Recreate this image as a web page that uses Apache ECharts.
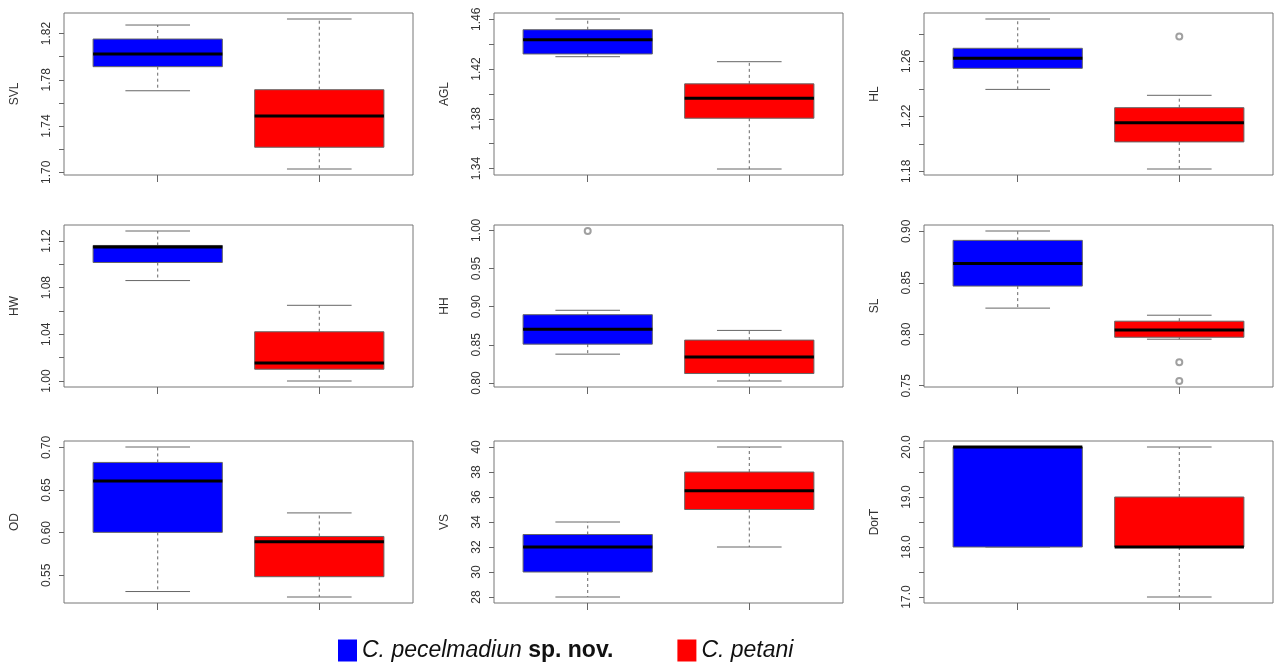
<!DOCTYPE html>
<html>
<head>
<meta charset="utf-8">
<script src="https://cdn.jsdelivr.net/npm/echarts@6/dist/echarts.min.js"></script>
<style>
  html, body { margin: 0; padding: 0; background: #fff; }
  #main { width: 1275px; height: 671px; }
</style>
</head>
<body>
<div id="main"></div>
<script>
// variable names, one panel each
var panelNames = ['SVL', 'AGL', 'HL', 'HW', 'HH', 'SL', 'OD', 'VS', 'DorT'];

// [lower whisker, Q1, median, Q3, upper whisker]
var blueStats = [
  [1.7705, 1.7913, 1.8022, 1.8152, 1.8273],
  [1.4299, 1.4321, 1.4436, 1.4516, 1.4602],
  [1.2396, 1.2549, 1.2622, 1.2695, 1.2908],
  [1.0861, 1.1016, 1.1148, 1.1162, 1.1286],
  [0.8378, 0.8509, 0.8703, 0.8895, 0.8953],
  [0.8254, 0.8468, 0.8688, 0.8912, 0.9003],
  [0.5310, 0.6004, 0.6607, 0.6824, 0.7005],
  [28, 30, 32, 33, 34],
  [18, 18, 20, 20, 20]
];
var redStats = [
  [1.7029, 1.7217, 1.7488, 1.7714, 1.8325],
  [1.3397, 1.3805, 1.3966, 1.4081, 1.4259],
  [1.1817, 1.2014, 1.2154, 1.2263, 1.2353],
  [1.0000, 1.0101, 1.0155, 1.0422, 1.0649],
  [0.8026, 0.8124, 0.8342, 0.8562, 0.8689],
  [0.7952, 0.7971, 0.8042, 0.8127, 0.8185],
  [0.5246, 0.5484, 0.5895, 0.5956, 0.6232],
  [32, 35, 36.5, 38, 40],
  [17, 18, 18, 19, 20]
];
// outliers: [panel, group (1 blue, 2 red), value]
var outliers = [
  [2, 2, 1.2780],
  [4, 1, 0.9992],
  [5, 2, 0.7728],
  [5, 2, 0.7546]
];

// tick marks and tick labels per panel
var tickValues = [
  [1.70, 1.72, 1.74, 1.76, 1.78, 1.80, 1.82],
  [1.34, 1.36, 1.38, 1.40, 1.42, 1.44, 1.46],
  [1.18, 1.20, 1.22, 1.24, 1.26, 1.28],
  [1.00, 1.02, 1.04, 1.06, 1.08, 1.10, 1.12],
  [0.80, 0.85, 0.90, 0.95, 1.00],
  [0.75, 0.80, 0.85, 0.90],
  [0.55, 0.60, 0.65, 0.70],
  [28, 30, 32, 34, 36, 38, 40],
  [17.0, 17.5, 18.0, 18.5, 19.0, 19.5, 20.0]
];
var labelValues = [
  [1.70, 1.74, 1.78, 1.82],
  [1.34, 1.38, 1.42, 1.46],
  [1.18, 1.22, 1.26],
  [1.00, 1.04, 1.08, 1.12],
  [0.80, 0.85, 0.90, 0.95, 1.00],
  [0.75, 0.80, 0.85, 0.90],
  [0.55, 0.60, 0.65, 0.70],
  [28, 30, 32, 34, 36, 38, 40],
  [17.0, 18.0, 19.0, 20.0]
];
var labelDecimals = [2, 2, 2, 2, 2, 2, 2, 0, 1];

var groupNames = ['C. pecelmadiun sp. nov.', 'C. petani'];
var groupColors = ['#0000ff', '#ff0000'];

var FONT = 'Liberation Sans, Arial, sans-serif';
var LINE = '#666';
var BOX_W = 0.8;

// panel frames
var colLeft = [64, 494, 924];
var rowTop = [13, 225, 441];
var frameW = 349, frameH = 162;

function renderBox(params, api) {
  var x = api.value(0);
  var pLo = api.coord([x, api.value(1)]);
  var pQ1 = api.coord([x, api.value(2)]);
  var pMed = api.coord([x, api.value(3)]);
  var pQ3 = api.coord([x, api.value(4)]);
  var pHi = api.coord([x, api.value(5)]);
  var half = api.size([BOX_W, 0])[0] / 2;
  var cap = half * 0.5;
  var cx = pMed[0];
  var thin = { stroke: LINE, lineWidth: 1 };
  var dash = { stroke: LINE, lineWidth: 1, lineDash: [3, 3] };
  return {
    type: 'group',
    children: [
      { type: 'line', shape: { x1: cx, y1: pQ3[1], x2: cx, y2: pHi[1] }, style: dash },
      { type: 'line', shape: { x1: cx, y1: pQ1[1], x2: cx, y2: pLo[1] }, style: dash },
      { type: 'line', shape: { x1: cx - cap, y1: pHi[1], x2: cx + cap, y2: pHi[1] }, style: thin },
      { type: 'line', shape: { x1: cx - cap, y1: pLo[1], x2: cx + cap, y2: pLo[1] }, style: thin },
      { type: 'rect', shape: { x: cx - half, y: pQ3[1], width: half * 2, height: pQ1[1] - pQ3[1] },
        style: { fill: api.visual('color'), stroke: LINE, lineWidth: 1 } },
      { type: 'line', shape: { x1: cx - half, y1: pMed[1], x2: cx + half, y2: pMed[1] },
        style: { stroke: '#000', lineWidth: 3 } }
    ]
  };
}

var grids = [], xAxes = [], yAxes = [], series = [];

panelNames.forEach(function (name, i) {
  var all = blueStats[i].concat(redStats[i]);
  outliers.forEach(function (o) { if (o[0] === i) all.push(o[2]); });
  var lo = Math.min.apply(null, all), hi = Math.max.apply(null, all);
  var pad = (hi - lo) * 0.04;

  grids.push({
    left: colLeft[i % 3], top: rowTop[Math.floor(i / 3)],
    width: frameW, height: frameH,
    show: true, borderColor: '#777', borderWidth: 1, backgroundColor: 'transparent'
  });
  xAxes.push({
    type: 'value', gridIndex: i, min: 0.42, max: 2.58,
    axisLine: { show: false }, splitLine: { show: false },
    axisTick: { show: true, customValues: [1, 2], length: 7, lineStyle: { color: LINE } },
    axisLabel: { show: false }
  });
  yAxes.push({
    type: 'value', gridIndex: i, min: lo - pad, max: hi + pad,
    name: name, nameLocation: 'middle', nameRotate: 90, nameGap: 43,
    nameTextStyle: { fontFamily: FONT, fontSize: 12, color: '#333' },
    axisLine: { show: false }, splitLine: { show: false },
    axisTick: { show: true, customValues: tickValues[i], length: 5, lineStyle: { color: LINE } },
    axisLabel: {
      customValues: labelValues[i], rotate: 90, margin: 11,
      fontFamily: FONT, fontSize: 12, color: '#333',
      formatter: (function (d) { return function (v) { return v.toFixed(d); }; })(labelDecimals[i])
    }
  });

  [blueStats[i], redStats[i]].forEach(function (s, g) {
    series.push({
      type: 'custom', name: groupNames[g],
      xAxisIndex: i, yAxisIndex: i,
      itemStyle: { color: groupColors[g] },
      dimensions: ['x', 'lo', 'q1', 'med', 'q3', 'hi'],
      encode: { x: 0, y: [1, 2, 3, 4, 5] },
      renderItem: renderBox,
      clip: false,
      silent: true,
      data: [[g + 1].concat(s)]
    });
  });

  var pts = outliers.filter(function (o) { return o[0] === i; })
    .map(function (o) { return [o[1], o[2]]; });
  if (pts.length) {
    series.push({
      type: 'scatter', xAxisIndex: i, yAxisIndex: i,
      symbol: 'emptyCircle', symbolSize: 6, silent: true,
      itemStyle: { color: '#888', borderWidth: 1 },
      data: pts
    });
  }
});

var chart = echarts.init(document.getElementById('main'));
chart.setOption({
  animation: false,
  grid: grids,
  xAxis: xAxes,
  yAxis: yAxes,
  legend: {
    data: groupNames,
    left: 333, top: 634,
    icon: 'rect', itemWidth: 19, itemHeight: 22, itemGap: 64,
    selectedMode: false,
    formatter: function (n) {
      if (n === groupNames[0]) return '{i|C. pecelmadiun} {b|sp. nov.}';
      return '{i|C. petani}';
    },
    textStyle: {
      fontFamily: FONT, fontSize: 23, color: '#111',
      rich: {
        i: { fontFamily: FONT, fontSize: 23, fontStyle: 'italic', color: '#111' },
        b: { fontFamily: FONT, fontSize: 23, fontWeight: 'bold', color: '#111' }
      }
    }
  },
  series: series
});
</script>
</body>
</html>
